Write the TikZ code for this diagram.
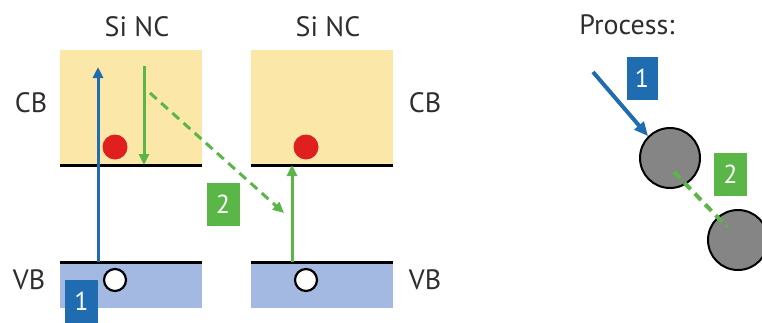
\documentclass[tikz,border=0pt]{standalone}
\usepackage{fontspec}
\setmainfont{PT Sans}
\usetikzlibrary{arrows.meta}
\definecolor{cbfill}{HTML}{FBE8A8}
\definecolor{vbfill}{HTML}{A4B9E2}
\definecolor{blueA}{HTML}{1F6DB0}
\definecolor{greenA}{HTML}{5AB646}
\definecolor{redA}{HTML}{E0201F}
\definecolor{txt}{HTML}{2E2E2E}
\definecolor{grayA}{HTML}{858585}

\begin{document}
\begin{tikzpicture}[x=1pt,y=-1pt,
  lbl/.style={text=txt, font=\fontsize{28}{28}\selectfont, inner sep=0},
  band/.style={draw=none, inner sep=0, anchor=north west, minimum width=142pt},
  edge/.style={line width=3pt, black},
  tip/.style={-{Triangle[length=11pt,width=10pt]}},
  arr/.style={tip, line width=3pt},
  dasharr/.style={arr, dash pattern=on 9pt off 6pt},
  electron/.style={circle, fill=redA, minimum size=25pt, inner sep=0},
  hole/.style={circle, draw=black, fill=white, line width=2.2pt, minimum size=22pt, inner sep=0},
  tag/.style={minimum width=33pt, minimum height=43pt, inner sep=0, text=white,
              font=\fontsize{26}{26}\selectfont},
  nc/.style={circle, draw=black, fill=grayA, line width=2pt, minimum size=60pt, inner sep=0}
]
\useasboundingbox (0,0) rectangle (762,322);

% band rectangles
\node[band, fill=cbfill, minimum height=115pt] (cbL) at (60,50) {};
\node[band, fill=vbfill, minimum height=46pt]  (vbL) at (60,262) {};
\node[band, fill=cbfill, minimum height=115pt] (cbR) at (251,50) {};
\node[band, fill=vbfill, minimum height=46pt]  (vbR) at (251,262) {};

% band edges
\draw[edge] (cbL.south west) -- (cbL.south east);
\draw[edge] (vbL.north west) -- (vbL.north east);
\draw[edge] (cbR.south west) -- (cbR.south east);
\draw[edge] (vbR.north west) -- (vbR.north east);

% labels
\node[lbl] (ncL) at (137,27) {Si NC};
\node[lbl] (ncR) at (328,27) {Si NC};
\node[lbl] (cbTL) at (31,103) {CB};
\node[lbl] (vbTL) at (29,280) {VB};
\node[lbl] (cbTR) at (425,103) {CB};
\node[lbl] (vbTR) at (425,280) {VB};
\node[lbl] (proc) at (627,25) {Process:};

% carriers
\node[electron] (eL) at (115,147) {};
\node[electron] (eR) at (306,147) {};
\node[hole] (hL) at (115,280) {};
\node[hole] (hR) at (306,280) {};

% transitions
\coordinate (absB) at (98,262);
\coordinate (absT) at (98,67);
\coordinate (relT) at (144,66);
\coordinate (relB) at (144,165);
\coordinate (trS) at (150,93);
\coordinate (trE) at (284,213);
\coordinate (excB) at (292,262);
\coordinate (excT) at (292,165);

\draw[arr, blueA] (absB) -- (absT);
\draw[arr, greenA] (relT) -- (relB);
\draw[dasharr, greenA] (trS) -- (trE);
\draw[arr, greenA] (excB) -- (excT);

% step tags
\node[tag, fill=blueA] (t1L) at (81.5,301) {1};
\node[tag, fill=greenA] (t2L) at (223,204.5) {2};
\node[tag, fill=blueA, minimum width=31pt] (t1R) at (642,78) {1};
\node[tag, fill=greenA] (t2R) at (730.5,174) {2};

% process sketch
\node[nc] (nc1) at (670,158) {};
\node[nc] (nc2) at (738,240) {};
\coordinate (phS) at (593,72);
\draw[blueA, line width=4pt, -{Triangle[length=14pt,width=12pt]}] (phS) -- (nc1.135);
\draw[greenA, line width=4pt, dash pattern=on 9pt off 6pt] ([shift={(4,14)}]nc1.center) -- ([shift={(-11,-13)}]nc2.center);
\end{tikzpicture}
\end{document}
